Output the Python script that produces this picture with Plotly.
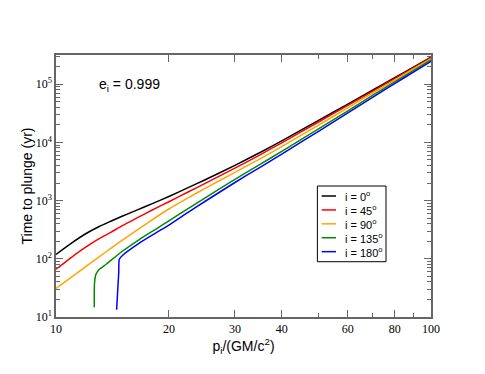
import plotly.graph_objects as go

# semi-latus rectum p_i / (GM/c^2)
p_common = [10, 11, 12, 13, 14, 15, 16, 17, 18, 20, 22.5, 25, 30, 35, 40, 50, 60, 70, 80, 90, 100]

t_i0 = [119, 186, 269, 355, 442, 537, 638, 752, 877, 1175, 1667, 2280, 4027, 6699, 10617,
        23550, 45394, 79250, 128825, 198153, 291743]
t_i45 = [66, 106, 158, 219, 285, 367, 457, 564, 681, 955, 1403, 1972, 3606, 6109, 9817,
         22131, 43152, 76033, 124451, 192309, 283792]
t_i90 = [31, 48.4, 73.3, 107, 151, 207, 275, 359, 462, 716, 1109, 1622, 3055, 5200, 8433,
         19588, 39084, 70632, 117490, 183654, 273527]

p_i135 = [12.65, 12.65, 12.66, 12.7, 12.78, 13.05, 13.6, 15.06, 16.68, 18.48, 20, 22.5, 25, 30,
          35, 40, 50, 60, 70, 80, 90, 100]
t_i135 = [14.7, 25, 35.5, 44.7, 54.3, 66, 80.5, 136, 214, 324, 447, 728, 1117, 2317,
          4178, 7015, 16866, 34834, 64417, 109648, 172584, 260016]

p_i180 = [14.51, 14.57, 14.63, 14.7, 14.75, 15.06, 16.68, 18.48, 20, 22.5, 25, 30,
          35, 40, 50, 60, 70, 80, 90, 100]
t_i180 = [13.3, 21.4, 34.3, 57.5, 98, 115, 186, 279, 380, 627, 973, 2042,
          3724, 6295, 15311, 31989, 59704, 102329, 162181, 245471]

series_names = ["i = 0<sup>o</sup>", "i = 45<sup>o</sup>", "i = 90<sup>o</sup>",
                "i = 135<sup>o</sup>", "i = 180<sup>o</sup>"]
series_colors = ["#000000", "#ff0000", "#ffa500", "#008b00", "#0000ff"]

x_tickvals = [10, 20, 30, 40, 60, 80, 100]
x_minorvals = [50, 70, 90]
y_tickvals = [10, 100, 1000, 10000, 100000]
y_ticktext = ["10<sup>1</sup>", "10<sup>2</sup>", "10<sup>3</sup>", "10<sup>4</sup>", "10<sup>5</sup>"]
y_minorvals = [m * d for d in [10, 100, 1000, 10000, 100000] for m in range(2, 10)]

xs = [p_common, p_common, p_common, p_i135, p_i180]
ys = [t_i0, t_i45, t_i90, t_i135, t_i180]

fig = go.Figure()
for x, y, name, col in zip(xs, ys, series_names, series_colors):
    fig.add_trace(go.Scatter(x=x, y=y, mode="lines", name=name, showlegend=False,
                             line=dict(color=col, width=1.5, shape="spline", smoothing=0.6)))

# hand-built legend box (paper coordinates) to match the compact original
shapes = [dict(type="rect", xref="paper", yref="paper", x0=0.697, x1=0.88, y0=0.211, y1=0.5,
               line=dict(color="black", width=1), fillcolor="white", layer="above")]
annotations = []
for k, (name, col) in enumerate(zip(series_names, series_colors)):
    yy = 0.4618 - k * 0.0531
    shapes.append(dict(type="line", xref="paper", yref="paper", x0=0.7085, x1=0.7467,
                       y0=yy, y1=yy, line=dict(color=col, width=1.5), layer="above"))
    annotations.append(dict(text=name, xref="paper", yref="paper", x=0.764, y=yy,
                            xanchor="left", yanchor="middle", showarrow=False,
                            font=dict(family="Liberation Sans", size=11, color="black")))

annotations.append(dict(text="e<sub>i</sub> = 0.999", xref="paper", yref="paper",
                        x=0.109, y=0.885, xanchor="left", yanchor="middle",
                        showarrow=False, font=dict(family="Liberation Sans", size=14)))

axis_col = "#666666"
fig.update_layout(
    width=477, height=366,
    margin=dict(l=48, r=54, t=47, b=57),
    paper_bgcolor="white", plot_bgcolor="white",
    showlegend=False,
    font=dict(family="Liberation Sans", size=13, color="black"),
    xaxis=dict(type="log", range=[1, 2], showgrid=False, zeroline=False,
               showline=True, linecolor=axis_col, linewidth=1.5, mirror="allticks",
               ticks="inside", ticklen=7, tickcolor=axis_col, tickwidth=1.2,
               tickvals=x_tickvals, ticktext=[str(v) for v in x_tickvals],
               tickfont=dict(family="Liberation Serif", size=12),
               minor=dict(tickvals=x_minorvals, ticks="inside", ticklen=4,
                          tickcolor=axis_col, tickwidth=1.2, showgrid=False),
               title=dict(text="p<sub>i</sub>/(GM/c<sup>2</sup>)", standoff=3,
                          font=dict(family="Liberation Sans", size=14))),
    yaxis=dict(type="log", range=[1, 5.5], showgrid=False, zeroline=False,
               showline=True, linecolor=axis_col, linewidth=1.5, mirror="allticks",
               ticks="inside", ticklen=7, tickcolor=axis_col, tickwidth=1.2,
               tickvals=y_tickvals, ticktext=y_ticktext,
               tickfont=dict(family="Liberation Serif", size=12),
               minor=dict(tickvals=y_minorvals, ticks="inside", ticklen=4,
                          tickcolor=axis_col, tickwidth=1.2, showgrid=False),
               title=dict(text="Time to plunge (yr)", standoff=0,
                          font=dict(family="Liberation Sans", size=14))),
    shapes=shapes,
    annotations=annotations,
)

fig.write_html("out.html")
